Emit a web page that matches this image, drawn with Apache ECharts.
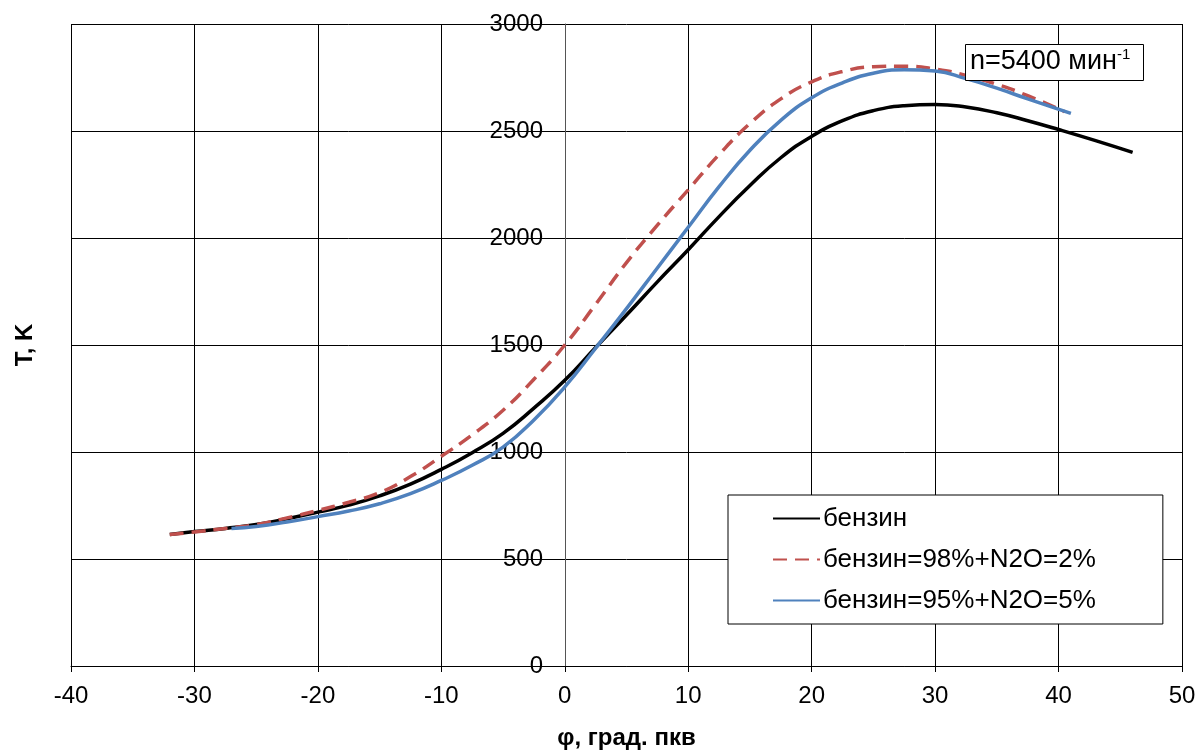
<!DOCTYPE html>
<html>
<head>
<meta charset="utf-8">
<script src="https://cdn.jsdelivr.net/npm/echarts@6/dist/echarts.min.js"></script>
<style>
  html, body { margin: 0; padding: 0; background: #fff; }
  #chart { width: 1200px; height: 753px; }
</style>
</head>
<body>
<div id="chart"></div>
<script>
// бензин
const phiPetrol = [-32, -30, -27.5, -25, -22.5, -20, -17.5, -15, -12.5, -10, -7.5, -5, -2.5, 0, 2.5, 5, 7.5, 10, 12.5, 15, 17.5, 20, 22.5, 25, 27.5, 30, 32.5, 35, 37.5, 40, 43, 46]
const tPetrol = [615, 628, 643, 661, 688, 719, 752, 795, 850, 919, 997, 1087, 1205, 1335, 1488, 1640, 1795, 1945, 2100, 2245, 2375, 2475, 2548, 2595, 2618, 2624, 2612, 2585, 2548, 2507, 2455, 2400]

// бензин=98%+N2O=2%
const phiN2O2 = [-32, -30, -27.5, -25, -22.5, -20, -17.5, -15, -12.5, -10, -7.5, -5, -2.5, 0, 2.5, 5, 7.5, 10, 12.5, 15, 17.5, 20, 22.5, 25, 27.5, 30, 32.5, 35, 37.5, 40.5]
const tN2O2 = [614, 626, 643, 661, 692, 727, 765, 810, 885, 980, 1080, 1195, 1340, 1500, 1690, 1885, 2060, 2225, 2390, 2535, 2650, 2730, 2778, 2800, 2803, 2790, 2760, 2718, 2665, 2590]

// бензин=95%+N2O=5%
const phiN2O5 = [-27, -25, -22.5, -20, -17.5, -15, -12.5, -10, -7.5, -5, -2.5, 0, 2.5, 5, 7.5, 10, 12.5, 15, 17.5, 20, 22.5, 25, 27.5, 30, 32.5, 35, 37.5, 41]
const tN2O5 = [642, 652, 673, 698, 724, 758, 805, 867, 938, 1023, 1150, 1304, 1485, 1670, 1860, 2050, 2240, 2410, 2550, 2655, 2725, 2770, 2786, 2780, 2745, 2700, 2650, 2582]

const seriesNames = ['бензин', 'бензин=98%+N2O=2%', 'бензин=95%+N2O=5%']
const xTicks = { min: -40, max: 50, step: 10 }
const yTicks = { min: 0, max: 3000, step: 500 }

const pairs = (xs, ys) => xs.map((x, i) => [x, ys[i]])

const FONT = 'Arial, "Liberation Sans", sans-serif'

const chart = echarts.init(document.getElementById('chart'))

// вертикальная ось стоит на φ = 0
const GRID_LEFT = 71
const GRID_RIGHT = 18
const plotW = 1200 - GRID_LEFT - GRID_RIGHT
const zeroShift = Math.round((0 - xTicks.min) / (xTicks.max - xTicks.min) * plotW)

chart.setOption({
  animation: false,
  backgroundColor: '#fff',
  textStyle: { fontFamily: FONT, color: '#000' },

  title: {
    left: 965,
    top: 44,
    padding: [3, 14, 5, 5],
    borderColor: '#000',
    borderWidth: 1,
    backgroundColor: '#fff',
    text: '{a|n=5400 мин}{sup|-1}',
    textStyle: {
      rich: {
        a: { fontSize: 27, fontWeight: 'normal', fontFamily: FONT, color: '#000', lineHeight: 30 },
        sup: { fontSize: 15, fontWeight: 'normal', fontFamily: FONT, color: '#000', verticalAlign: 'top', lineHeight: 30, padding: [0, 0, 10, 0] }
      }
    }
  },

  legend: {
    orient: 'vertical',
    left: 728,
    top: 495,
    padding: [10, 67, 10, 44],
    itemWidth: 47,
    itemHeight: 14,
    itemGap: 14,
    backgroundColor: '#fff',
    borderColor: '#000',
    borderWidth: 1,
    borderRadius: 0,
    itemStyle: { opacity: 0 },
    textStyle: { fontSize: 26, fontFamily: FONT, color: '#000', lineHeight: 27, padding: [0, 0, 0, -2] },
    data: seriesNames
  },

  grid: {
    left: GRID_LEFT,
    right: GRID_RIGHT,
    top: 24,
    bottom: 87,
    containLabel: false,
    outerBoundsMode: 'none'
  },

  xAxis: {
    type: 'value',
    min: xTicks.min,
    max: xTicks.max,
    interval: xTicks.step,
    name: 'φ, град. пкв',
    nameLocation: 'middle',
    nameGap: 60,
    nameTextStyle: { fontSize: 24, fontWeight: 'bold', color: '#000', fontFamily: FONT },
    axisLine: { onZero: false, lineStyle: { color: '#000', width: 1 } },
    axisTick: { show: true, length: 6, lineStyle: { color: '#000' } },
    axisLabel: { fontSize: 24, color: '#000', margin: 18, fontFamily: FONT, formatter: v => String(v) },
    splitLine: { show: true, lineStyle: { color: '#000', width: 1 } }
  },

  yAxis: {
    type: 'value',
    min: yTicks.min,
    max: yTicks.max,
    interval: yTicks.step,
    offset: -zeroShift,
    name: 'T, K',
    nameLocation: 'middle',
    nameGap: 528,
    nameRotate: 90,
    nameTextStyle: { fontSize: 24, fontWeight: 'bold', color: '#000', fontFamily: FONT },
    axisLine: { show: true, onZero: false, lineStyle: { color: '#555', width: 1 } },
    axisTick: { show: false },
    axisLabel: { fontSize: 24, color: '#000', margin: 22, fontFamily: FONT, formatter: v => String(v) },
    splitLine: { show: true, lineStyle: { color: '#000', width: 1 } }
  },

  series: [
    {
      name: seriesNames[0],
      type: 'line',
      smooth: true,
      symbol: 'none',
      z: 3,
      lineStyle: { color: '#000000', width: 3.5 },
      itemStyle: { color: '#000000' },
      data: pairs(phiPetrol, tPetrol)
    },
    {
      name: seriesNames[1],
      type: 'line',
      smooth: true,
      symbol: 'none',
      z: 4,
      lineStyle: { color: '#C0504D', width: 3.5, type: [14, 8] },
      itemStyle: { color: '#C0504D' },
      data: pairs(phiN2O2, tN2O2)
    },
    {
      name: seriesNames[2],
      type: 'line',
      smooth: true,
      symbol: 'none',
      z: 5,
      lineStyle: { color: '#4F81BD', width: 3.5 },
      itemStyle: { color: '#4F81BD' },
      data: pairs(phiN2O5, tN2O5)
    }
  ]
})
</script>
</body>
</html>
